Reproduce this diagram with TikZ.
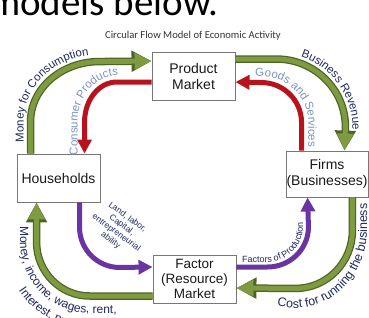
\documentclass[tikz,border=0pt]{standalone}
\usepackage{fontspec}
\setmainfont{Liberation Sans}
\newfontfamily\calfont{Carlito}
\usetikzlibrary{arrows.meta,decorations.text}
\definecolor{gLight}{HTML}{7F9B40}
\definecolor{gDark}{HTML}{4E6426}
\definecolor{rCol}{HTML}{B8121C}
\definecolor{pCol}{HTML}{6A35A2}
\definecolor{navy}{HTML}{1F2A5E}
\definecolor{lblue}{HTML}{7D93C3}
\definecolor{boxline}{HTML}{777777}
\tikzset{
  box/.style={draw=boxline, line width=0.9pt, fill=white, minimum width=83pt, minimum height=48pt,
    inner sep=0pt, align=center, font=\fontsize{14}{16.5}\selectfont, text=black!90},
  gback/.style={draw=gDark, line width=7.5pt, -{Triangle[length=20pt,width=20pt]}},
  gfront/.style={draw=gLight, line width=5pt, -{Triangle[length=17pt,width=15.5pt]}},
  redarrow/.style={draw=rCol, line width=5pt, -{Triangle[length=14pt,width=14pt]}},
  purplearrow/.style={draw=pCol, line width=5pt, -{Triangle[length=14pt,width=14pt]}},
  curvelabel/.style={decorate, decoration={text along path, text align=left, text={#1}}},
}
\begin{document}
\begin{tikzpicture}[x=1pt,y=-1pt]
\useasboundingbox (0,0) rectangle (369,317);
\clip (0,0) rectangle (369,317);
\fill[white] (0,0) rectangle (369,317);

\node[anchor=base west, inner sep=0pt, font=\calfont\fontsize{39}{40}\selectfont] (top) at (-11,15) {models below.};
\node[font=\calfont\fontsize{10.6}{12}\selectfont, text=black!80] (title) at (193,36) {Circular Flow Model of Economic Activity};

\node[box] (pm) at (193.5,76.5) {Product\\Market};
\node[box, minimum width=82pt, minimum height=46pt] (fi) at (327,174) {Firms\\(Businesses)};
\node[box] (hh) at (58.5,178) {Households};
\node[box, font=\fontsize{13.5}{15}\selectfont] (fm) at (194.5,279) {Factor\\(Resource)\\Market};

% top left: green (money for consumption)
\foreach \s in {gback,gfront}
  \draw[\s] ([xshift=14pt]hh.north west) -- ++(0,-32) arc[start angle=180,end angle=270,x radius=69,y radius=60] -- ([yshift=-9pt]pm.north west);
% top left: red (consumer products)
\draw[redarrow] ([yshift=-30pt]pm.north west) -- ++(-35,0) arc[start angle=270,end angle=180,x radius=32,y radius=40] -- ([xshift=68pt]hh.north west);
% top right: green (business revenue)
\foreach \s in {gback,gfront}
  \draw[\s] ([yshift=-7pt]pm.north east) -- ++(41,0) arc[start angle=270,end angle=360,x radius=69,y radius=68] -- ([xshift=59pt]fi.north west);
% top right: red (goods and services)
\draw[redarrow] ([xshift=16pt]fi.north west) -- ++(0,-28) arc[start angle=0,end angle=-90,x radius=40,y radius=40] -- ([yshift=-30pt]pm.north east);
% bottom left: purple (land, labor ...)
\draw[purplearrow] ([xshift=63pt]hh.south west) -- ++(0,25) arc[start angle=180,end angle=90,x radius=40,y radius=40] -- ([yshift=12pt]fm.west);
% bottom left: green (money, income ...)
\foreach \s in {gback,gfront}
  \draw[\s] ([yshift=-17pt]fm.west) -- ++(-63,0) arc[start angle=90,end angle=180,x radius=53,y radius=54] -- ([xshift=20pt]hh.south west);
% bottom right: purple (factors of production)
\draw[purplearrow] ([yshift=12pt]fm.east) -- ++(31,0) arc[start angle=90,end angle=0,x radius=41,y radius=40] -- ([xshift=22pt]fi.south west);
% bottom right: green (cost for running the business)
\foreach \s in {gback,gfront}
  \draw[\s] ([xshift=-16pt]fi.south east) -- ++(0,33) arc[start angle=0,end angle=90,x radius=57,y radius=58] -- ([yshift=-9pt]fm.east);

% curved labels
\path[curvelabel={|\fontsize{11.5}{12}\selectfont\color{navy}|Money for Consumption}]
  (23.5,142) -- (23.5,122) arc[start angle=180,end angle=270,x radius=76.5,y radius=67.5] -- ++(60,0);
\path[curvelabel={|\fontsize{11.5}{12}\selectfont\color{lblue}|Consumer Products}]
  (77.5,155) -- (77.5,123) arc[start angle=180,end angle=270,x radius=39.5,y radius=47.5] -- ++(60,0);
\path[curvelabel={|\fontsize{11.5}{12}\selectfont\color{navy}|Business Revenue}]
  (300.9,56.6) arc[start angle=289,end angle=360,x radius=76.5,y radius=75.5] -- ++(0,40);
\path[curvelabel={|\fontsize{11.5}{12}\selectfont\color{lblue}|Goods and Services}]
  (255.5,77) arc[start angle=262,end angle=360,x radius=46.5,y radius=46.5] -- ++(0,40);
\path[curvelabel={|\fontsize{12}{12}\selectfont\color{navy}|Money, income, wages, rent,}]
  (20,226) -- (20,242) arc[start angle=180,end angle=90,x radius=70,y radius=71] -- ++(80,0);
\path[curvelabel={|\fontsize{12}{12}\selectfont\color{navy}|Interest, profits}]
  (18.7,290.6) arc[start angle=146,end angle=40,x radius=86,y radius=87];
\path[curvelabel={|\fontsize{9}{9}\selectfont\color{navy}|Factors of Production}]
  (242,262) -- (267,262) arc[start angle=90,end angle=0,x radius=36,y radius=35] -- ++(0,-40);
\path[curvelabel={|\fontsize{12.5}{12}\selectfont\color{navy}|Cost for running the business}]
  (277,305.5) arc[start angle=104.5,end angle=0,x radius=72,y radius=78] -- ++(0,-50);

\node[rotate=-36, align=center, font=\fontsize{8.5}{9.5}\selectfont, text=navy, inner sep=0pt] (lab) at (119,229) {Land, labor,\\Capital,\\entrepreneurial\\ability};
\end{tikzpicture}
\end{document}
